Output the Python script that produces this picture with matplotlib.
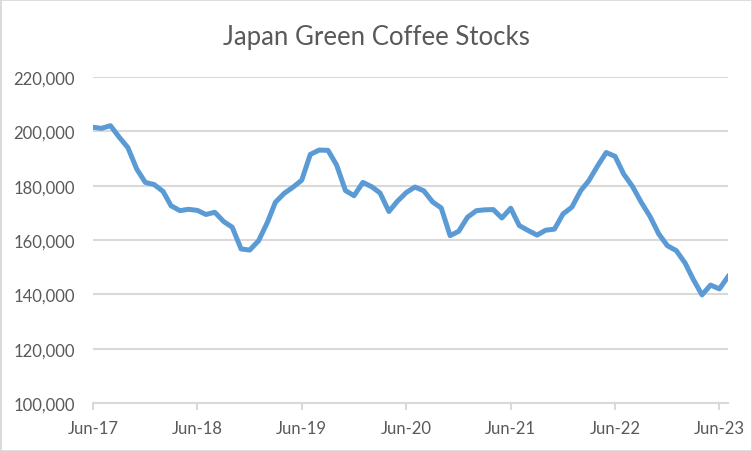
import pandas as pd
import matplotlib
matplotlib.use("Agg")
import matplotlib.pyplot as plt
import matplotlib.dates as mdates
from matplotlib.ticker import FuncFormatter
from matplotlib.patches import Rectangle

# monthly stocks, Jun-17 .. Jul-23 (thousand bags)
start_month = "2017-06-01"
stocks_k = [
    201.5, 201.1, 202.1, 197.8, 194.0, 186.1, 181.2, 180.4, 177.9, 172.6, 170.8, 171.3,
    170.9, 169.4, 170.2, 166.8, 164.7, 156.7, 156.3, 159.7, 166.5, 173.9, 177.2, 179.4,
    182.0, 191.5, 193.1, 193.0, 187.6, 178.2, 176.3, 181.2, 179.6, 177.3, 170.5, 174.3,
    177.5, 179.5, 178.1, 174.0, 171.8, 161.6, 163.2, 168.4, 170.8, 171.1, 171.2, 168.1,
    171.7, 165.3, 163.5, 161.8, 163.6, 164.0, 169.6, 172.1, 178.2, 181.8, 187.3, 192.2,
    190.8, 184.3, 179.7, 173.8, 168.7, 162.2, 157.9, 156.1, 151.5, 145.6, 139.8, 143.4,
    142.0, 146.5,
]
y_ticks = [100000, 120000, 140000, 160000, 180000, 200000, 220000]
title = "Japan Green Coffee Stocks"

months = pd.date_range(start_month, periods=len(stocks_k), freq="MS")
values = [v * 1000 for v in stocks_k]

plt.rcParams["font.family"] = ["Lato", "DejaVu Sans"]
grey_txt = "#595959"
grey_line = "#d9d9d9"

fig = plt.figure(figsize=(7.52, 4.52), dpi=100)
ax = fig.add_axes([93 / 752, 1 - 404 / 452, (728 - 93) / 752, (404 - 78) / 452])

ax.plot(months, values, color="#5b9bd5", lw=3.6, solid_joinstyle="round", zorder=3)

ax.set_ylim(100000, 220000)
ax.set_yticks(y_ticks)
ax.yaxis.set_major_formatter(FuncFormatter(lambda v, p: f"{int(v):,}"))
ax.set_xlim(months[0], months[-1])
ax.xaxis.set_major_locator(mdates.MonthLocator(bymonth=6))
ax.xaxis.set_major_formatter(mdates.DateFormatter("%b-%y"))

ax.grid(axis="y", color=grey_line, lw=1.5)
ax.set_axisbelow(True)
for s in ["top", "right", "left"]:
    ax.spines[s].set_visible(False)
ax.spines["bottom"].set_color(grey_line)
ax.spines["bottom"].set_linewidth(1.5)
ax.tick_params(axis="y", length=0, pad=13, labelsize=12, labelcolor=grey_txt)
ax.tick_params(axis="x", length=5, width=1.5, color=grey_line, pad=7,
               labelsize=12, labelcolor=grey_txt)

fig.text(0.5, 1 - 37 / 452, title, ha="center", va="center",
         fontsize=18.5, color=grey_txt)

fig.patches.append(Rectangle((0, 0), 1, 1, transform=fig.transFigure,
                             fill=False, edgecolor=grey_line, lw=2))

fig.savefig("out.png", dpi=100)
